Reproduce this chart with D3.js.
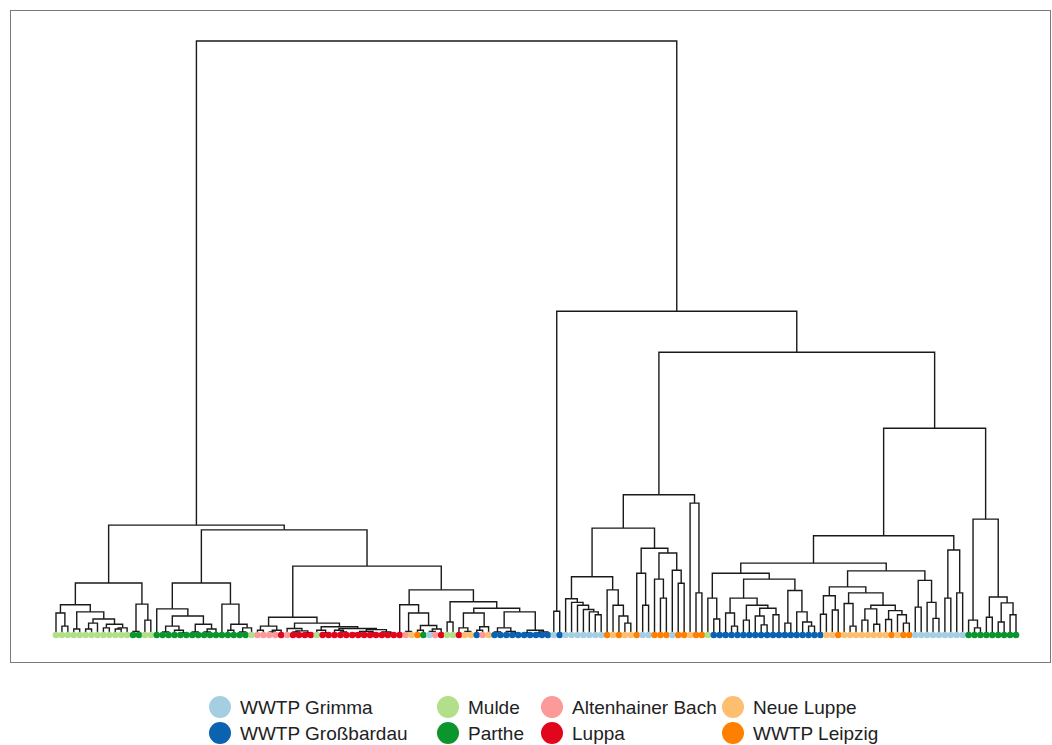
<!DOCTYPE html>
<meta charset="utf-8">
<style>
body { margin: 0; background: #fff; }
.link { fill: none; stroke: #1a1a1a; stroke-width: 1.4px; }
.legend text { font-family: "Liberation Sans", Arial, sans-serif; font-size: 19px; fill: #222; }
</style>
<body>
<div id="content"></div>
<script src="https://cdn.jsdelivr.net/npm/d3@7"></script>
<script>
var width = 1052,
    height = 745;

// sample groups (leaf codes) and colours
var codes = ["G", "B", "M", "P", "A", "L", "N", "W"];
var names = ["WWTP Grimma", "WWTP Großbardau", "Mulde", "Parthe", "Altenhainer Bach", "Luppa", "Neue Luppe", "WWTP Leipzig"];
var colors = ["#a6cee3", "#0a62b0", "#b2df8a", "#0a962c", "#fb9a99", "#e0061c", "#fdbf6f", "#ff7f00"];

// sub-trees, written as (left,right)height ; leaves are group codes
var mulde13 = "((M,(M,M)1.5)3.7,((M,M)1,(((M,M)1,M)2,((M,M)1.2,((M,M)1,M)1.2)1.8)2.7)3.9)5.1";
var parthe4 = "((P,P)0.6,(M,M)2.5)5.2";
var parthe17a = "(P,(((P,P)0.5,(P,(P,P)0.4)0.8)1.5,((P,P)0.5,((P,P)0.5,P)1)1.8)3.2)4.4";
var parthe17b = "(P,((P,P)0.8,((P,P)0.5,M)1.2)1.8)5.2";
var luppa24 = "(((A,A)0.8,((A,A)0.5,L)0.8)1.5,((A,((L,L)0.5,(L,L)0.4)0.7)1.1,((M,(L,L)0.4)0.8,((L,(L,L)0.5)0.8,((((L,L)0.2,L)0.3,(L,L)0.3)0.6,(L,(L,L)0.3)0.5)0.9)1.1)1.4)2)3";
var mixed8 = "(L,((A,N)0.6,((W,P)0.8,((G,A)0.6,L)1)1.6)3.7)5.1";
var mixed18 = "((M,M)2.2,(((L,(N,N)0.6)1.2,((B,A)0.8,N)1.4)3.7,(((B,B)0.5,(B,(B,B)0.3)0.6)1.2,((B,B)0.4,((B,B)0.3,B)0.5)0.8)3.9)4.5)5.6";
var pair2 = "(G,B)4";
var grimma12 = "((G,(G,(G,(G,(G,(G,G)3.4)3.9)4.3)5)5.5)6.1,(W,(N,(W,(N,N)2)3.2)5)7.6)9.8";
var leipzig9 = "((W,(G,G)5)10.4,((W,(W,W)6.2)9.4,(G,(W,W)8.7)10.9)13.8)14.6";
var leipzig3 = "(N,(W,W)7.1)22.2";
var bardau19 = "((M,(B,B)2.7)6.2,(((B,(B,B)1.5)3.7,((B,B)2.5,((B,(B,B)1.7)3.2,(B,B)3.4)4.5)5)6.2,((B,B)2,(B,(B,(B,B)1.5)2.2)3.9)7.5)9.4)10.4";
var luppe16 = "(((B,N)3.5,(N,W)4.2)6.6,((N,(N,N)1.5)5.3,(((N,N)2.5,(N,N)1.8)4.4,((N,W)2.6,(N,(W,W)2)3.4)4.1)5)7.1)8.1";
var grimma5 = "((G,G)4.7,(G,(G,G)2.8)5.5)9.2";
var grimma4 = "((G,G)6.2,(G,G)7.1)14.3";
var parthe9 = "((P,(P,P)1.2)2.5,((P,P)3,((P,P)2.2,(P,P)3.4)5.4)6.4)19.5";

// upper merges
function join(a, b, h) { return "(" + a + "," + b + ")" + h; }
var left = join(join(mulde13, parthe4, 8.75),
                join(join(parthe17a, parthe17b, 8.75),
                     join(luppa24, join(mixed8, mixed18, 7.6), 11.6), 17.7), 18.5);
var right = join(pair2,
                 join(join(join(grimma12, leipzig9, 18), leipzig3, 23.6),
                      join(join(join(bardau19, join(luppe16, grimma5, 10.8), 12.1), grimma4, 16.7), parthe9, 34.8),
                      47.6), 54.5);
var tree = join(left, right, 100);

function parse(s) {
  var i = 0;
  function node() {
    if (s[i] === "(") {
      i++;
      var l = node(); i++;
      var r = node(); i++;
      var j = i;
      while (i < s.length && /[0-9.]/.test(s[i])) i++;
      return {h: +s.slice(j, i), children: [l, r]};
    }
    return {code: s[i++], h: 0};
  }
  return node();
}

var root = parse(tree);
var leaves = [];
(function collect(n) {
  if (n.children) n.children.forEach(collect); else leaves.push(n);
})(root);

var x = d3.scalePoint().domain(d3.range(leaves.length)).range([56, 1016]);
var y = d3.scaleLinear().domain([0, 100]).range([635, 41]);
var color = d3.scaleOrdinal().domain(codes).range(colors);

leaves.forEach(function(d, i) { d.x = x(i); });
(function place(n) {
  if (n.children) { n.children.forEach(place); n.x = d3.mean(n.children, function(c) { return c.x; }); }
})(root);

var nodes = [];
(function walk(n) { if (n.children) { nodes.push(n); n.children.forEach(walk); } })(root);

var svg = d3.select("#content").append("svg")
    .attr("width", width)
    .attr("height", height);

svg.append("rect")
    .attr("x", 10.5).attr("y", 10.5)
    .attr("width", 1040).attr("height", 652)
    .style("fill", "none")
    .style("stroke", "#7a7a7a")
    .style("stroke-width", 1);

svg.selectAll(".link")
  .data(nodes)
  .enter()
  .append("path")
  .attr("class", "link")
  .attr("d", function(d) {
    var a = d.children[0], b = d.children[1];
    return "M" + a.x + "," + y(a.h) + "V" + y(d.h) + "H" + b.x + "V" + y(b.h);
  });

svg.selectAll(".leaf")
  .data(leaves)
  .enter()
  .append("circle")
  .attr("class", "leaf")
  .attr("cx", function(d) { return d.x; })
  .attr("cy", y(0))
  .attr("r", 3.3)
  .style("fill", function(d) { return color(d.code); });

// legend, 4 columns x 2 rows
var legendCols = [220, 448, 552, 733];
var legendRows = [707, 733];
var legendOrder = [["G", "M", "A", "N"], ["B", "P", "L", "W"]];

var legend = svg.append("g").attr("class", "legend");
legendOrder.forEach(function(row, r) {
  row.forEach(function(code, c) {
    var k = codes.indexOf(code);
    legend.append("ellipse")
      .attr("cx", legendCols[c]).attr("cy", legendRows[r])
      .attr("rx", 11).attr("ry", 11)
      .style("fill", colors[k]);
    legend.append("text")
      .attr("x", legendCols[c] + 20).attr("y", legendRows[r])
      .attr("dy", "0.35em")
      .text(names[k]);
  });
});
</script>
